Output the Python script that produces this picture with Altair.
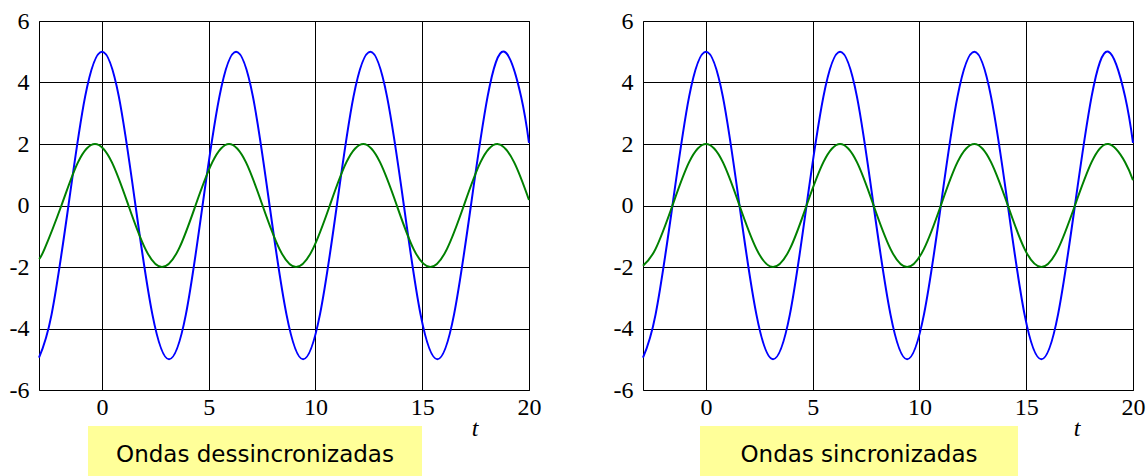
import altair as alt
import pandas as pd

# Time samples for the blue wave and the synchronized green wave
t_main = [-2.95, -2.36, -1.57, -0.79, 0.0, 0.79, 1.57, 2.36, 3.14, 3.93, 4.71, 5.50,
          6.28, 7.07, 7.85, 8.64, 9.42, 10.21, 11.00, 11.78, 12.57, 13.35, 14.14,
          14.92, 15.71, 16.49, 17.28, 18.06, 18.85, 19.63, 20.0]
blue_y = [-4.95, -3.54, 0.0, 3.54, 5.0, 3.54, 0.0, -3.54, -5.0, -3.54, 0.0, 3.54,
          5.0, 3.54, 0.0, -3.54, -5.0, -3.54, 0.0, 3.54, 5.0, 3.54, 0.0,
          -3.54, -5.0, -3.54, 0.0, 3.54, 5.0, 3.54, 2.04]
green_sync_y = [-1.96, -1.41, 0.0, 1.41, 2.0, 1.41, 0.0, -1.41, -2.0, -1.41, 0.0, 1.41,
                2.0, 1.41, 0.0, -1.41, -2.0, -1.41, 0.0, 1.41, 2.0, 1.41, 0.0,
                -1.41, -2.0, -1.41, 0.0, 1.41, 2.0, 1.41, 0.82]

# Green wave shifted ahead of the blue one
t_shift = [-2.95, -2.69, -1.90, -1.12, -0.33, 0.46, 1.24, 2.03, 2.81, 3.60, 4.38, 5.17,
           5.95, 6.74, 7.52, 8.31, 9.09, 9.88, 10.67, 11.45, 12.24, 13.02, 13.81,
           14.59, 15.38, 16.16, 16.95, 17.73, 18.52, 19.30, 20.0]
green_shift_y = [-1.74, -1.41, 0.0, 1.41, 2.0, 1.41, 0.0, -1.41, -2.0, -1.41, 0.0, 1.41,
                 2.0, 1.41, 0.0, -1.41, -2.0, -1.41, 0.0, 1.41, 2.0, 1.41, 0.0,
                 -1.41, -2.0, -1.41, 0.0, 1.41, 2.0, 1.41, 0.18]

x_ticks = [0, 5, 10, 15, 20]
y_ticks = [-6, -4, -2, 0, 2, 4, 6]
captions = ["Ondas dessincronizadas", "Ondas sincronizadas"]

W, H = 490, 369
SERIF = "Liberation Serif"

x_scale = alt.Scale(domain=[-2.95, 20], nice=False, zero=False)
y_scale = alt.Scale(domain=[-6, 6], nice=False, zero=False)

# plain hyphen-minus in the tick labels
plain_label = "'' + datum.value"

x_axis = alt.Axis(values=x_ticks, title=None, ticks=False, grid=True, domain=False,
                  labelFlush=False, labelBound=False, labelFont=SERIF, labelFontSize=24,
                  labelColor="black", labelPadding=5, gridColor="black", gridOpacity=1,
                  gridWidth=1, labelExpr=plain_label)
y_axis = alt.Axis(values=y_ticks, title=None, ticks=False, grid=True, domain=False,
                  labelFlush=False, labelBound=False, labelFont=SERIF, labelFontSize=24,
                  labelColor="black", labelPadding=10, gridColor="black", gridOpacity=1,
                  gridWidth=1, labelExpr=plain_label)


def wave(t, y, color):
    df = pd.DataFrame({"t": t, "y": y})
    return alt.Chart(df).mark_line(color=color, strokeWidth=2, interpolate="natural").encode(
        x=alt.X("t:Q", scale=x_scale, axis=x_axis),
        y=alt.Y("y:Q", scale=y_scale, axis=y_axis),
    )


def panel(t_green, green_y, caption, box_x, box_x2, text_x, t_x):
    box = alt.Chart(pd.DataFrame({"c": [caption]})).mark_rect(color="#FFFF99").encode(
        x=alt.value(box_x), x2=alt.value(box_x2), y=alt.value(405), y2=alt.value(455))
    label = alt.Chart(pd.DataFrame({"c": [caption]})).mark_text(
        font="DejaVu Sans", fontSize=23, color="black", align="center",
        baseline="alphabetic").encode(
        text="c:N", x=alt.value(text_x), y=alt.value(441))
    t_title = alt.Chart(pd.DataFrame({"c": ["t"]})).mark_text(
        font=SERIF, fontSize=24, fontStyle="italic", color="black", align="center",
        baseline="alphabetic").encode(
        text="c:N", x=alt.value(t_x), y=alt.value(415))
    blue = wave(t_main, blue_y, "#0000FF")
    green = wave(t_green, green_y, "#008000")
    return alt.layer(blue, green, box, label, t_title).properties(width=W, height=H)


left = panel(t_shift, green_shift_y, captions[0], 49, 383, 216, 436)
right = panel(t_main, green_sync_y, captions[1], 57, 375, 216, 434)

chart = alt.hconcat(left, right, spacing=114, bounds="flush").configure_view(
    stroke="black", strokeWidth=1
).properties(
    padding={"left": 8, "top": 8, "right": 0, "bottom": 0},
    background="white",
)

chart.save("out.html", embed_options={"renderer": "svg", "actions": False})
